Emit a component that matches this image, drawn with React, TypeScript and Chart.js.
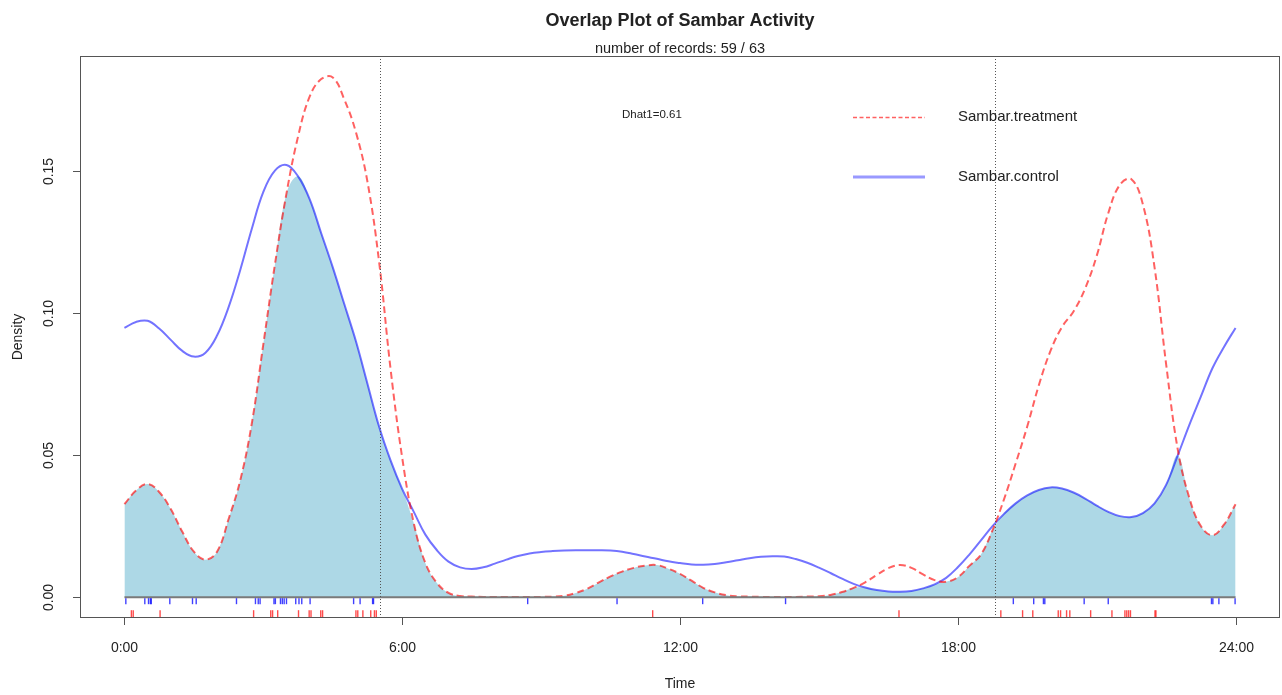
import { useEffect, useRef } from "react";
import { Chart, registerables } from "chart.js";

Chart.register(...registerables);

// Time of day (hours) at which both kernel density curves are sampled
const HOURS = [
  0, 0.25, 0.5, 0.75, 1, 1.25, 1.5, 1.75, 2, 2.25, 2.5, 2.75,
  3, 3.25, 3.5, 3.75, 4, 4.25, 4.5, 4.75, 5, 5.25, 5.5, 5.75,
  6, 6.25, 6.5, 6.75, 7, 7.25, 7.5, 7.75, 8, 8.25, 8.5, 8.75,
  9, 9.25, 9.5, 9.75, 10, 10.25, 10.5, 10.75, 11, 11.25, 11.5, 11.75,
  12, 12.25, 12.5, 12.75, 13, 13.25, 13.5, 13.75, 14, 14.25, 14.5, 14.75,
  15, 15.25, 15.5, 15.75, 16, 16.25, 16.5, 16.75, 17, 17.25, 17.5, 17.75,
  18, 18.25, 18.5, 18.75, 19, 19.25, 19.5, 19.75, 20, 20.25, 20.5, 20.75,
  21, 21.25, 21.5, 21.75, 22, 22.25, 22.5, 22.75, 23, 23.25, 23.5, 23.75,
  24,
];

// Activity density, treatment site
const TREATMENT = [
  0.0327, 0.0375, 0.0398, 0.037, 0.031, 0.023, 0.016, 0.0132, 0.016, 0.0275, 0.041, 0.061,
  0.089, 0.117, 0.142, 0.162, 0.176, 0.1822, 0.1828, 0.175, 0.1635, 0.146, 0.118, 0.08,
  0.049, 0.026, 0.012, 0.005, 0.0015, 0.0004, 0.0002, 0.0001, 0.0001, 0.0001, 0.0001, 0.0001,
  0.0001, 0.0002, 0.0005, 0.0015, 0.003, 0.0052, 0.0073, 0.009, 0.0103, 0.0111, 0.0113, 0.01,
  0.0082, 0.0058, 0.0033, 0.0017, 0.0007, 0.0003, 0.0002, 0.0001, 0.0001, 0.0001, 0.0001, 0.0002,
  0.0003, 0.0008, 0.0018, 0.0033, 0.0052, 0.0078, 0.0102, 0.0113, 0.0103, 0.008, 0.006, 0.0054,
  0.007, 0.011, 0.015, 0.0235, 0.0345, 0.047, 0.06, 0.0745, 0.0865, 0.095, 0.1005, 0.1085,
  0.12, 0.135, 0.145, 0.147, 0.138, 0.116, 0.082, 0.0521, 0.035, 0.025, 0.0218, 0.0255,
  0.0327,
];

// Activity density, control site
const CONTROL = [
  0.0947, 0.0968, 0.0972, 0.0945, 0.0905, 0.0866, 0.0846, 0.086, 0.092, 0.102, 0.115, 0.1295,
  0.1425, 0.15, 0.152, 0.148, 0.14, 0.128, 0.116, 0.103, 0.09, 0.075, 0.06, 0.048,
  0.038, 0.03, 0.022, 0.0165, 0.0125, 0.0105, 0.0099, 0.0105, 0.0118, 0.0132, 0.0145, 0.0154,
  0.0159, 0.0162, 0.0164, 0.0165, 0.0165, 0.0165, 0.0164, 0.016, 0.0152, 0.0143, 0.0135, 0.0126,
  0.012, 0.0115, 0.0114, 0.0117, 0.0123, 0.013, 0.0137, 0.0142, 0.0144, 0.0143, 0.0134, 0.0121,
  0.0104, 0.0085, 0.0065, 0.0047, 0.0034, 0.0025, 0.002, 0.0019, 0.0022, 0.0031, 0.0045, 0.0068,
  0.0105, 0.015, 0.02, 0.025, 0.0293, 0.033, 0.0358, 0.0377, 0.0386, 0.0382, 0.0368, 0.0347,
  0.0322, 0.03, 0.0285, 0.0282, 0.0296, 0.033, 0.0395, 0.0498, 0.0605, 0.0705, 0.0805, 0.088,
  0.0947,
];

// Detection times (hours) shown as rug marks
const TREATMENT_TIMES = [
  0.15, 0.19, 0.77, 2.79, 3.16, 3.2, 3.31, 3.76, 3.99, 4.03, 4.24, 4.28,
  5.0, 5.04, 5.15, 5.32, 5.4, 5.44, 11.41, 16.73, 18.93, 19.4, 19.62, 20.17,
  20.22, 20.35, 20.42, 20.87, 21.33, 21.61, 21.65, 21.69, 21.73, 22.26, 22.28,
];
const CONTROL_TIMES = [
  0.03, 0.44, 0.52, 0.56, 0.58, 0.98, 1.47, 1.55, 2.42, 2.83, 2.89, 2.93,
  3.23, 3.26, 3.37, 3.41, 3.45, 3.5, 3.7, 3.77, 3.83, 4.01, 4.95, 5.09,
  5.36, 5.38, 8.71, 10.64, 12.49, 14.28, 19.2, 19.64, 19.85, 19.88, 20.73, 21.25,
  23.48, 23.51, 23.64, 23.99,
];

// Sunrise / sunset reference lines
const DAY_EDGES = [5.52, 18.81];

const X_TICKS = [0, 6, 12, 18, 24];
const X_TICK_LABELS = ["0:00", "6:00", "12:00", "18:00", "24:00"];
const Y_TICKS = [0, 0.05, 0.1, 0.15];
const Y_TICK_LABELS = ["0.00", "0.05", "0.10", "0.15"];

const TITLE = "Overlap Plot of Sambar Activity";
const SUBTITLE = "number of records: 59 / 63";
const DHAT_LABEL = "Dhat1=0.61";
const SERIES_NAMES = ["Sambar.treatment", "Sambar.control"];

const FONT = '"Liberation Sans", Arial, sans-serif';
const TEXT = "#222";
const RED = "rgba(255,0,0,0.62)";
const BLUE = "rgba(0,0,255,0.55)";

const overlapDecor = {
  id: "overlapDecor",
  beforeDraw(chart: any) {
    const { ctx, width, height } = chart;
    ctx.save();
    ctx.fillStyle = "#fff";
    ctx.fillRect(0, 0, width, height);
    ctx.restore();
  },
  afterDatasetsDraw(chart: any) {
    const { ctx, chartArea: a, scales } = chart;
    const x = scales.x;
    const y = scales.y;
    const y0 = y.getPixelForValue(0);

    ctx.save();
    // zero line under the curves
    ctx.strokeStyle = "#7a7a7a";
    ctx.lineWidth = 2;
    ctx.beginPath();
    ctx.moveTo(x.getPixelForValue(0), y0);
    ctx.lineTo(x.getPixelForValue(24), y0);
    ctx.stroke();

    // rug marks
    ctx.lineWidth = 1.4;
    ctx.strokeStyle = "rgba(0,0,255,0.75)";
    CONTROL_TIMES.forEach((t) => {
      const px = x.getPixelForValue(t);
      ctx.beginPath();
      ctx.moveTo(px, y0 + 1);
      ctx.lineTo(px, y0 + 7);
      ctx.stroke();
    });
    ctx.strokeStyle = "rgba(255,0,0,0.7)";
    TREATMENT_TIMES.forEach((t) => {
      const px = x.getPixelForValue(t);
      ctx.beginPath();
      ctx.moveTo(px, y0 + 13);
      ctx.lineTo(px, a.bottom - 1);
      ctx.stroke();
    });

    // sunrise / sunset
    ctx.strokeStyle = "#555";
    ctx.lineWidth = 1;
    ctx.setLineDash([1, 2]);
    DAY_EDGES.forEach((t) => {
      const px = Math.round(x.getPixelForValue(t)) + 0.5;
      ctx.beginPath();
      ctx.moveTo(px, a.top);
      ctx.lineTo(px, a.bottom);
      ctx.stroke();
    });
    ctx.setLineDash([]);

    // plot frame
    ctx.strokeStyle = "#555";
    ctx.lineWidth = 1;
    ctx.strokeRect(a.left + 0.5, a.top + 0.5, a.right - a.left - 1, a.bottom - a.top - 1);

    // axes ticks and labels
    ctx.fillStyle = TEXT;
    ctx.font = `14px ${FONT}`;
    ctx.textAlign = "center";
    ctx.textBaseline = "middle";
    X_TICKS.forEach((t, i) => {
      const px = Math.round(x.getPixelForValue(t)) + 0.5;
      ctx.beginPath();
      ctx.moveTo(px, a.bottom);
      ctx.lineTo(px, a.bottom + 7);
      ctx.stroke();
      ctx.fillText(X_TICK_LABELS[i], px, a.bottom + 30);
    });
    Y_TICKS.forEach((v, i) => {
      const py = Math.round(y.getPixelForValue(v)) + 0.5;
      ctx.beginPath();
      ctx.moveTo(a.left, py);
      ctx.lineTo(a.left - 7, py);
      ctx.stroke();
      ctx.save();
      ctx.translate(a.left - 31, py);
      ctx.rotate(-Math.PI / 2);
      ctx.fillText(Y_TICK_LABELS[i], 0, 0);
      ctx.restore();
    });

    // axis titles
    ctx.fillText("Time", (a.left + a.right) / 2, 684);
    ctx.save();
    ctx.translate(18, (a.top + a.bottom) / 2);
    ctx.rotate(-Math.PI / 2);
    ctx.fillText("Density", 0, 0);
    ctx.restore();

    // titles
    ctx.font = `bold 18px ${FONT}`;
    ctx.fillText(TITLE, (a.left + a.right) / 2, 21);
    ctx.font = `14.5px ${FONT}`;
    ctx.fillText(SUBTITLE, (a.left + a.right) / 2, 49);

    // overlap estimate
    ctx.font = `11.5px ${FONT}`;
    ctx.textAlign = "left";
    ctx.fillText(DHAT_LABEL, 622, 115);

    // legend
    ctx.font = `15px ${FONT}`;
    ctx.strokeStyle = RED;
    ctx.lineWidth = 1.3;
    ctx.setLineDash([4, 2.5]);
    ctx.beginPath();
    ctx.moveTo(853, 117.5);
    ctx.lineTo(925, 117.5);
    ctx.stroke();
    ctx.setLineDash([]);
    ctx.fillText(SERIES_NAMES[0], 958, 117);
    ctx.strokeStyle = "rgba(0,0,255,0.4)";
    ctx.lineWidth = 3;
    ctx.beginPath();
    ctx.moveTo(853, 177);
    ctx.lineTo(925, 177);
    ctx.stroke();
    ctx.fillText(SERIES_NAMES[1], 958, 177);
    ctx.restore();
  },
};

export default function App() {
  const canvasRef = useRef<HTMLCanvasElement | null>(null);

  useEffect(() => {
    const canvas = canvasRef.current;
    if (!canvas) return;
    const treatment = HOURS.map((h, i) => ({ x: h, y: TREATMENT[i] }));
    const control = HOURS.map((h, i) => ({ x: h, y: CONTROL[i] }));
    const overlap = HOURS.map((h, i) => ({ x: h, y: Math.min(TREATMENT[i], CONTROL[i]) }));

    const chart = new Chart(canvas, {
      type: "line",
      data: {
        datasets: [
          {
            label: SERIES_NAMES[0],
            data: treatment,
            borderColor: RED,
            borderWidth: 2,
            borderDash: [7, 4],
            pointRadius: 0,
            fill: false,
            tension: 0.4,
          },
          {
            label: SERIES_NAMES[1],
            data: control,
            borderColor: BLUE,
            borderWidth: 2,
            pointRadius: 0,
            fill: false,
            tension: 0.4,
          },
          {
            label: "overlap",
            data: overlap,
            borderWidth: 0,
            borderColor: "rgba(0,0,0,0)",
            backgroundColor: "#ADD8E6",
            pointRadius: 0,
            fill: "origin",
            tension: 0.4,
          },
        ],
      },
      options: {
        animation: false,
        responsive: false,
        events: [],
        layout: { padding: { left: 80, top: 56, right: 2, bottom: 77 } },
        scales: {
          x: { type: "linear", display: false, min: -0.96, max: 24.96 },
          y: { type: "linear", display: false, min: -0.00732, max: 0.19032 },
        },
        plugins: {
          legend: { display: false },
          tooltip: { enabled: false },
          title: { display: false },
        },
      },
      plugins: [overlapDecor],
    });
    return () => chart.destroy();
  }, []);

  return (
    <div style={{ position: "fixed", left: 0, top: 0, width: 1282, height: 695, background: "#fff" }}>
      <canvas ref={canvasRef} width={1282} height={695} style={{ display: "block" }} />
    </div>
  );
}
